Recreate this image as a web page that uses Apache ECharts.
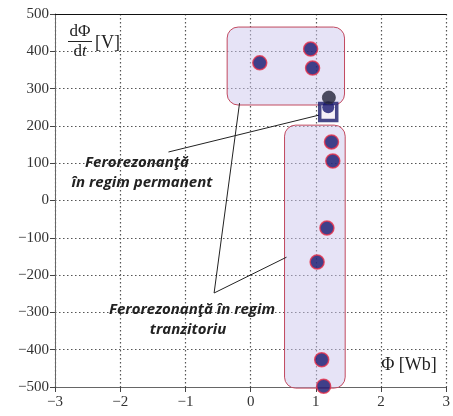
<!DOCTYPE html>
<html>
<head>
<meta charset="utf-8">
<script src="https://cdn.jsdelivr.net/npm/echarts@6/dist/echarts.min.js"></script>
<style>
  html, body { margin: 0; padding: 0; background: #fff; }
  #chart { width: 453px; height: 416px; }
</style>
</head>
<body>
<div id="chart"></div>
<script>
// Axis ranges and ticks
const xTicks = [-3, -2, -1, 0, 1, 2, 3];
const yTicks = [-500, -400, -300, -200, -100, 0, 100, 200, 300, 400, 500];

// Operating points (flux [Wb], dPhi/dt [V])
const steadyPoints = [[0.14, 369], [0.92, 406], [0.95, 355]];
const transientPoints = [[1.24, 157], [1.26, 106], [1.17, -74], [1.02, -165], [1.09, -427], [1.12, -498]];
const innerPoint = [[1.19, 250]];
const darkPoint = [[1.2, 276]];
const squarePoint = [[1.19, 237]];

// Highlighted regions [xMin, yMin, xMax, yMax]
const regions = [[-0.36, 256, 1.44, 465], [0.52, -503, 1.45, 202]];

// Annotation leader lines (polylines in data units)
const leaders = [
  [[-1.26, 130], [1.05, 229]],
  [[-0.17, 261], [-0.56, -248], [0.55, -152]]
];

const serif = 'Liberation Serif';
const fmt = v => String(v).replace('-', '\u2212');

const chart = echarts.init(document.getElementById('chart'), null, { renderer: 'canvas' });

const pointStyle = { color: '#17176e', borderColor: '#e8304a', borderWidth: 1.5 };
const noteFont = 'italic bold 15px "Open Sans", sans-serif';

chart.setOption({
  animation: false,
  grid: { left: 55, right: 2, top: 14, bottom: 29, containLabel: false },
  xAxis: [{
    type: 'value', min: xTicks[0], max: xTicks[xTicks.length - 1], interval: 1,
    axisLine: { onZero: false, lineStyle: { color: '#666', width: 1 } },
    axisTick: { show: true, length: 5, lineStyle: { color: '#444' } },
    axisLabel: { formatter: fmt, fontFamily: serif, fontSize: 15, color: '#333', margin: 8 },
    splitLine: { show: true, lineStyle: { type: [1.5, 2.5], color: '#555', width: 1.2 } }
  }, {
    type: 'value', position: 'top', min: xTicks[0], max: xTicks[xTicks.length - 1], interval: 1,
    axisLine: { show: true, onZero: false, lineStyle: { color: '#111', width: 1.2 } },
    axisTick: { show: false }, axisLabel: { show: false }, splitLine: { show: false }
  }],
  yAxis: [{
    type: 'value', min: yTicks[0], max: yTicks[yTicks.length - 1], interval: 100,
    axisLine: { show: true, onZero: false, lineStyle: { color: '#666', width: 1 } },
    axisTick: { show: true, length: 5, lineStyle: { color: '#444' } },
    axisLabel: { formatter: fmt, fontFamily: serif, fontSize: 15, color: '#333', margin: 6 },
    splitLine: { show: true, lineStyle: { type: [1.5, 2.5], color: '#555', width: 1.2 } }
  }],
  series: [
    {
      type: 'custom', name: 'regions', z: 1, silent: true,
      data: regions,
      renderItem: (params, api) => {
        const p0 = api.coord([api.value(0), api.value(3)]);
        const p1 = api.coord([api.value(2), api.value(1)]);
        return {
          type: 'rect',
          shape: { x: p0[0], y: p0[1], width: p1[0] - p0[0], height: p1[1] - p0[1], r: 11 },
          style: { fill: 'rgba(205,200,238,0.5)', stroke: '#c24a60', lineWidth: 1 }
        };
      }
    },
    {
      type: 'custom', name: 'leaders', z: 3, silent: true,
      data: leaders.map((pts, i) => [i]),
      renderItem: (params, api) => {
        const pts = leaders[api.value(0)].map(p => api.coord(p));
        return {
          type: 'polyline',
          shape: { points: pts },
          style: { stroke: '#222', lineWidth: 1, fill: null }
        };
      }
    },
    {
      type: 'scatter', name: 'steady', z: 4, symbol: 'circle', symbolSize: 14,
      data: steadyPoints, itemStyle: pointStyle
    },
    {
      type: 'scatter', name: 'transient', z: 4, symbol: 'circle', symbolSize: 14,
      data: transientPoints, itemStyle: pointStyle
    },
    {
      type: 'scatter', name: 'square', z: 5, symbol: 'rect', symbolSize: 17,
      data: squarePoint,
      itemStyle: { color: '#f3eef6', borderColor: '#1a1c6c', borderWidth: 3.5 }
    },
    {
      type: 'scatter', name: 'inner', z: 6, symbol: 'circle', symbolSize: 12,
      data: innerPoint, itemStyle: { color: '#17176e', borderColor: '#17176e', borderWidth: 0 }
    },
    {
      type: 'scatter', name: 'dark', z: 7, symbol: 'circle', symbolSize: 13,
      data: darkPoint, itemStyle: { color: '#24243a', borderColor: '#3a3a4a', borderWidth: 1 }
    }
  ],
  graphic: [
    // dPhi/dt [V] axis caption
    { type: 'text', x: 80, y: 32, z: 10,
      style: { text: 'd\u03A6', font: '17px ' + serif, fill: '#222', textAlign: 'center', textVerticalAlign: 'middle' } },
    { type: 'line', z: 10, shape: { x1: 68, y1: 41.5, x2: 92, y2: 41.5 }, style: { stroke: '#222', lineWidth: 1 } },
    { type: 'text', x: 80, y: 52, z: 10,
      style: { text: '{a|d}{b|t}', textAlign: 'center', textVerticalAlign: 'middle',
        rich: { a: { font: '17px ' + serif, fill: '#222' }, b: { font: 'italic 17px ' + serif, fill: '#222' } } } },
    { type: 'text', x: 95, y: 43, z: 10,
      style: { text: '[V]', font: '18px ' + serif, fill: '#222', textAlign: 'left', textVerticalAlign: 'middle' } },
    // Phi [Wb] axis caption
    { type: 'text', x: 409, y: 365, z: 10,
      style: { text: '\u03A6 [Wb]', font: '18px ' + serif, fill: '#222', textAlign: 'center', textVerticalAlign: 'middle' } },
    // Annotations
    { type: 'text', x: 137, y: 163, z: 10,
      style: { text: 'Ferorezonan\u0163\u0103', font: noteFont, fill: '#222', textAlign: 'center', textVerticalAlign: 'middle' } },
    { type: 'text', x: 142, y: 183, z: 10,
      style: { text: '\u00EEn regim permanent', font: noteFont, fill: '#222', textAlign: 'center', textVerticalAlign: 'middle' } },
    { type: 'text', x: 192, y: 310, z: 10,
      style: { text: 'Ferorezonan\u0163\u0103 \u00EEn regim', font: noteFont, fill: '#222', textAlign: 'center', textVerticalAlign: 'middle' } },
    { type: 'text', x: 188, y: 330, z: 10,
      style: { text: 'tranzitoriu', font: noteFont, fill: '#222', textAlign: 'center', textVerticalAlign: 'middle' } }
  ]
});
</script>
</body>
</html>
